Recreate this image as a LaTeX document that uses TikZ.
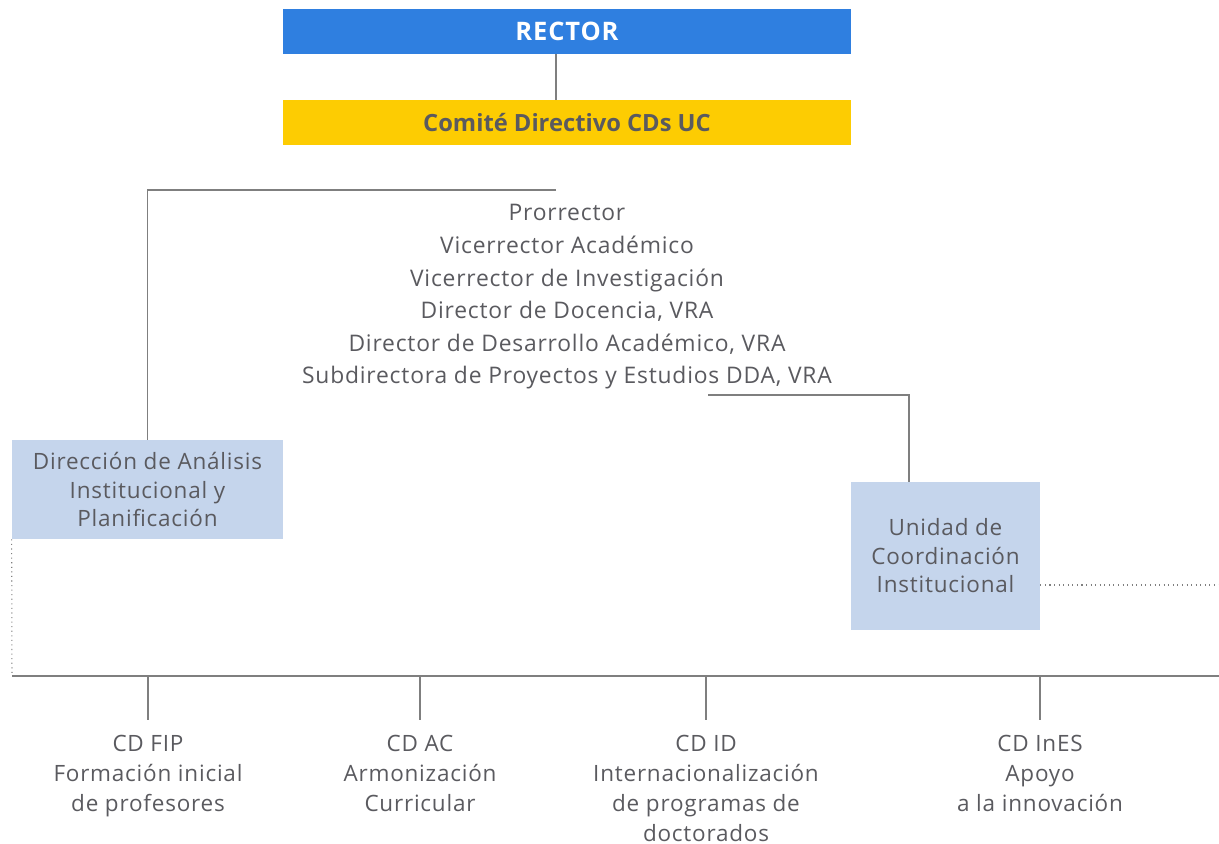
\documentclass[tikz,border=0pt]{standalone}
\usepackage{fontspec}
\setmainfont{Open Sans}[LetterSpace=3.5]
\usetikzlibrary{positioning}
\definecolor{rectorblue}{HTML}{2F7FE0}
\definecolor{comiteyellow}{HTML}{FDCC02}
\definecolor{unitblue}{HTML}{C5D5EC}
\definecolor{textgray}{HTML}{5A5A5F}
\definecolor{linegray}{HTML}{7F7F7F}

\begin{document}
\begin{tikzpicture}[
  x=0.02cm,y=-0.02cm,
  font=\fontsize{13}{18.56}\selectfont,
  conn/.style={draw=linegray,line width=0.8pt},
  dotconn/.style={draw=linegray,dotted,line width=0.6pt},
  topbox/.style={minimum width=11.36cm,minimum height=0.9cm,inner sep=0pt},
  unitbox/.style={fill=unitblue,text=textgray,align=center,inner sep=0pt,
    font=\fontsize{12.8}{16.2}\selectfont},
  cdlabel/.style={text=textgray,align=center,anchor=north,inner sep=0pt,
    font=\fontsize{12.8}{17.08}\selectfont}]

\useasboundingbox (0,0) rectangle (1219,843);

% --- top: rector and the steering committee ---
\node[topbox,fill=rectorblue,text=white,font=\fontsize{14.5}{17}\selectfont\bfseries]
  (rector) at (567,31.5) {RECTOR};
\node[topbox,fill=comiteyellow,text=textgray,
  font=\fontsize{13.5}{16}\selectfont\bfseries\addfontfeature{LetterSpace=0}]
  (comite) at (567,122.5) {Comité Directivo CDs UC};
\draw[conn] ([xshift=-0.22cm]rector.south) -- ([xshift=-0.22cm]comite.north);

% --- committee members ---
\node[text=textgray,align=center] (members) at (567,297)
  {Prorrector\\
   Vicerrector Académico\\
   Vicerrector de Investigación\\
   Director de Docencia, VRA\\
   Director de Desarrollo Académico, VRA\\
   Subdirectora de Proyectos y Estudios DDA, VRA};

% --- support units ---
\node[unitbox,minimum width=5.42cm,minimum height=1.98cm] (daip) at (147.5,489.5)
  {Dirección de Análisis\\ Institucional y\\ Planificación};
\node[unitbox,minimum width=3.78cm,minimum height=2.96cm] (uci) at (945.5,556)
  {Unidad de\\ Coordinación\\ Institucional};

\coordinate (split) at (556,190);
\coordinate (memo) at (708,395);
\draw[conn] (split) -| (daip.north);
\draw[conn] (memo) -| ([xshift=-0.73cm]uci.north);

% --- bus to the CDs ---
\coordinate (busL) at (12,676);
\coordinate (busR) at (1219,676);
\coordinate (uciR) at (1219,585);
\draw[conn] (busL) -- (busR);
\draw[dotconn] (daip.south west) -- (busL);
\draw[dotconn] (uci.east |- uciR) -- (uciR);

% --- the four CDs ---
\node[cdlabel] (cdfip) at (148,735) {CD FIP\\ Formación inicial\\ de profesores};
\node[cdlabel] (cdac) at (420,735) {CD AC\\ Armonización\\ Curricular};
\node[cdlabel] (cdid) at (706,735) {CD ID\\ Internacionalización\\ de programas de\\ doctorados};
\node[cdlabel] (cdines) at (1040,735) {CD InES\\ Apoyo\\ a la innovación};

\foreach \n in {cdfip,cdac,cdid,cdines}
  \draw[conn] (\n.north |- busL) -- ([yshift=0.3cm]\n.north);

\end{tikzpicture}
\end{document}
